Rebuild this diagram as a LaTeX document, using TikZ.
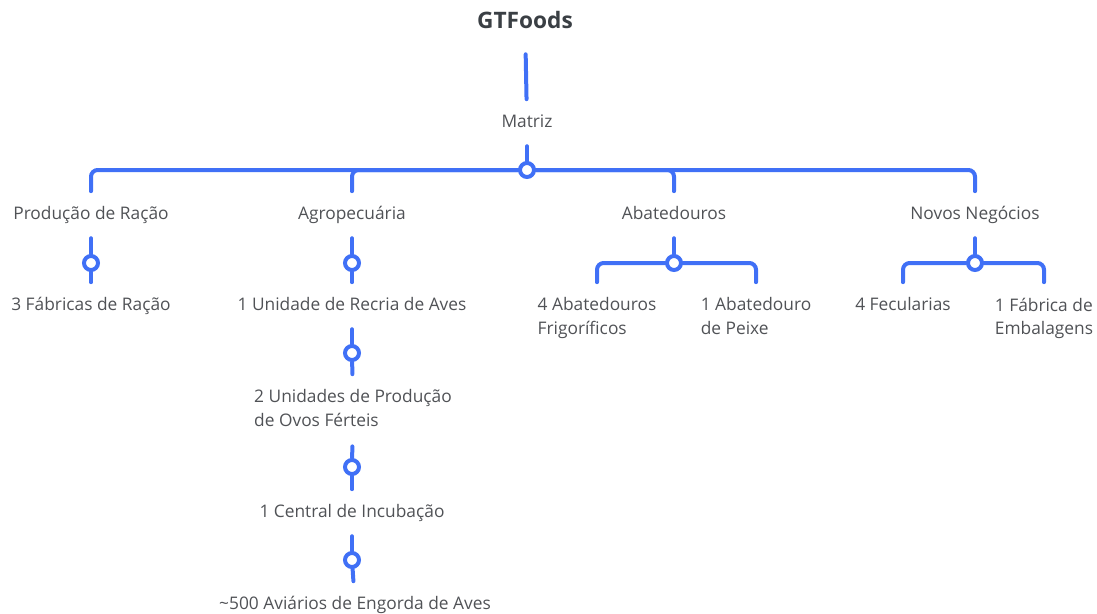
\documentclass[tikz,border=0pt]{standalone}
\usepackage{fontspec}
\setmainfont{Open Sans}
\usetikzlibrary{backgrounds}
\definecolor{linkblue}{RGB}{64,112,246}
\definecolor{txtgrey}{RGB}{80,82,86}
\definecolor{titlegrey}{RGB}{58,63,68}
\begin{document}
\begin{tikzpicture}[x=0.75pt,y=-0.75pt,
every node/.style={inner sep=0pt},
lbl/.style={font=\fontsize{13}{16}\selectfont,text=txtgrey,text height=9.3pt,text depth=2.6pt},
lbltwo/.style={font=\fontsize{13}{17.3}\selectfont,text=txtgrey,align=left,anchor=north},
junc/.style={circle,draw=linkblue,fill=white,line width=3pt,minimum size=10.5pt},
link/.style={draw=linkblue,line width=3pt,line cap=round,rounded corners=5pt},
gapstart/.style={shorten <=11.5pt},
gapend/.style={shorten >=11.5pt}]
\useasboundingbox (0,0) rectangle (1097,614);

% top
\node[font=\fontsize{17}{20}\selectfont\bfseries,text=titlegrey] (gtf) at (525,20) {GTFoods};
\node[lbl] (matriz) at (527,122.7) {Matriz};
\node[junc] (j0) at (527,170) {};

% first level
\node[lbl] (racao) at (91,214.7) {Produção de Ração};
\node[lbl] (agro) at (352,214.7) {Agropecuária};
\node[lbl] (abat) at (674,214.7) {Abatedouros};
\node[lbl] (novos) at (975,214.7) {Novos Negócios};

\node[junc] (j1) at (91,263) {};
\node[junc] (j2) at (352,263) {};
\node[junc] (j3) at (674,263) {};
\node[junc] (j4) at (975,263) {};

% second level
\node[lbl] (fabr) at (91,305.7) {3 Fábricas de Ração};
\node[lbl] (recria) at (352,305.7) {1 Unidade de Recria de Aves};
\node[lbltwo] (frigo) at (597,297.5) {4 Abatedouros\\Frigoríficos};
\node[lbltwo] (peixe) at (756,297.5) {1 Abatedouro\\de Peixe};
\node[lbl] (fecul) at (903,305.7) {4 Fecularias};
\node[lbltwo] (embal) at (1044,297.5) {1 Fábrica de\\Embalagens};

% chain below Agropecuaria
\node[junc] (j5) at (352,353) {};
\node[lbltwo] (ovos) at (353,389.5) {2 Unidades de Produção\\de Ovos Férteis};
\node[junc] (j6) at (352,467) {};
\node[lbl] (incub) at (352,512.7) {1 Central de Incubação};
\node[junc] (j7) at (352,560) {};
\node[lbl] (aviar) at (355,604.7) {\textasciitilde500 Aviários de Engorda de Aves};

\begin{scope}[on background layer]
\draw[link,shorten <=19pt,gapend] (gtf) -- (matriz);
\draw[link,gapstart] (matriz) -- (j0);
\draw[link,gapend] (j0) -| (racao);
\draw[link,gapend] (j0) -| (agro);
\draw[link,gapend] (j0) -| (abat);
\draw[link,gapend] (j0) -| (novos);
\draw[link,gapstart] (racao) -- (j1);
\draw[link,gapend] (j1) -- (fabr);
\draw[link,gapstart] (agro) -- (j2);
\draw[link,gapend] (j2) -- (recria);
\draw[link,gapstart] (abat) -- (j3);
\draw[link,gapend] (j3) -| (frigo);
\draw[link,gapend] (j3) -| (peixe);
\draw[link,gapstart] (novos) -- (j4);
\draw[link,gapend] (j4) -| (fecul);
\draw[link,gapend] (j4) -| (embal);
\draw[link,gapstart] (recria) -- (j5);
\draw[link,gapend] (j5) -- (ovos);
\draw[link,shorten <=15pt] (ovos) -- (j6);
\draw[link,gapend] (j6) -- (incub);
\draw[link,gapstart] (incub) -- (j7);
\draw[link,gapend] (j7) -- (aviar);
\end{scope}
\end{tikzpicture}
\end{document}
